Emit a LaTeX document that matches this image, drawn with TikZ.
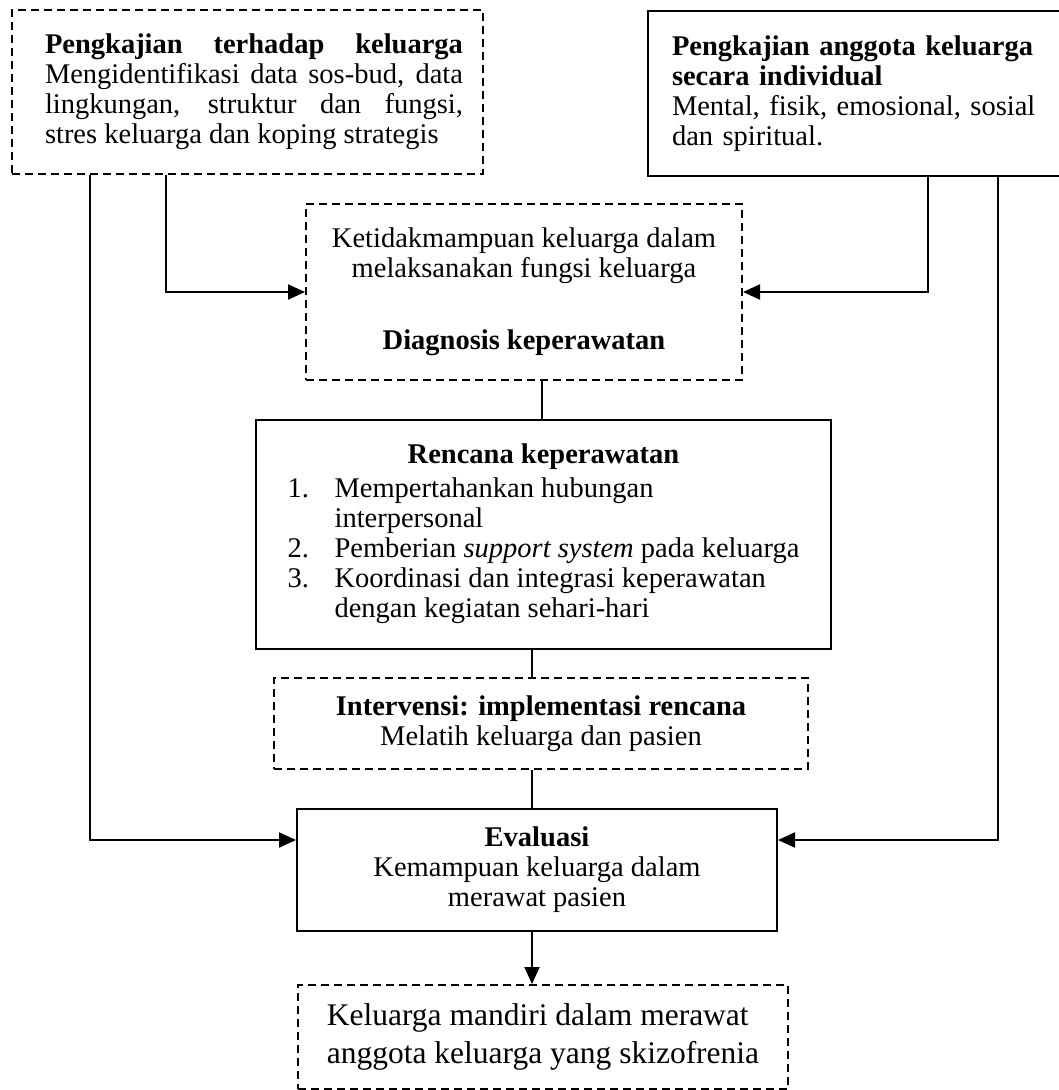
\documentclass[tikz,border=0pt]{standalone}
\usepackage{fontspec}
\setmainfont{Liberation Serif}
\usetikzlibrary{arrows.meta}
\newcommand\mainsz{\fontsize{28.5}{30}\selectfont}
\newcommand\bigsz{\fontsize{31.5}{38}\selectfont}
\begin{document}
\begin{tikzpicture}[x=1pt,y=-1pt,
  box/.style={draw, line width=2pt, rectangle, inner sep=0pt, font=\mainsz},
  dbox/.style={box, dash pattern=on 8pt off 5pt},
  conn/.style={line width=2.2pt},
  arr/.style={conn, -{Triangle[length=17pt,width=15pt]}}]
\useasboundingbox (0,0) rectangle (1059,1090);

\node[dbox, minimum width=471pt, minimum height=164pt] (A) at (247.5,92)
  {\hspace*{13pt}\parbox{418pt}{\tolerance=10000 \textbf{Pengkajian terhadap keluarga}\linebreak Mengidentifikasi data sos-bud, data\linebreak lingkungan, struktur dan fungsi,\linebreak stres keluarga dan koping strategis}};

\node[box, minimum width=413pt, minimum height=165pt, text width=365pt, align=left] (B) at (854.5,93.5)
  {\textbf{Pengkajian anggota keluarga}\\ \textbf{secara individual}\\ Mental, fisik, emosional, sosial\\ dan spiritual.};

\node[dbox, minimum width=436pt, minimum height=176pt, align=center] (C) at (524,292)
  {Ketidakmampuan keluarga dalam\\ melaksanakan fungsi keluarga\\[42pt] \textbf{Diagnosis keperawatan}};

\node[box, minimum width=575pt, minimum height=229pt] (D) at (543.5,534.5)
  {\begin{tabular}{@{}p{47pt}@{}l@{}}
   \multicolumn{2}{c}{\textbf{Rencana keperawatan}}\\[4pt]
   1. & Mempertahankan hubungan\\
      & interpersonal\\
   2. & Pemberian \textit{support system} pada keluarga\\
   3. & Koordinasi dan integrasi keperawatan\\
      & dengan kegiatan sehari-hari
   \end{tabular}};

\node[dbox, minimum width=534pt, minimum height=91pt, align=center] (E) at (541,723.5)
  {\textbf{Intervensi: implementasi rencana}\\ Melatih keluarga dan pasien};

\node[box, minimum width=480pt, minimum height=122pt, align=center] (F) at (537,870)
  {\textbf{Evaluasi}\\ Kemampuan keluarga dalam\\ merawat pasien};

\node[dbox, minimum width=490pt, minimum height=104pt, align=left, font=\bigsz] (G) at (543,1037)
  {Keluarga mandiri dalam merawat\\ anggota keluarga yang skizofrenia};

\coordinate (lx) at (90,840);
\coordinate (lx2) at (166,292);
\coordinate (rx2) at (928,292);
\coordinate (rx) at (998,840);
\coordinate (cx) at (542,0);
\coordinate (mx) at (532,0);

\draw[arr] (A.south -| lx) |- (F.west |- lx);
\draw[arr] (A.south -| lx2) |- (C.west);
\draw[arr] (B.south -| rx2) |- (C.east);
\draw[arr] (B.south -| rx) |- (F.east |- rx);
\draw[conn] (C.south -| cx) -- (D.north -| cx);
\draw[conn] (D.south -| mx) -- (E.north -| mx);
\draw[conn] (E.south -| mx) -- (F.north -| mx);
\draw[arr] (F.south -| mx) -- (G.north -| mx);
\end{tikzpicture}
\end{document}
